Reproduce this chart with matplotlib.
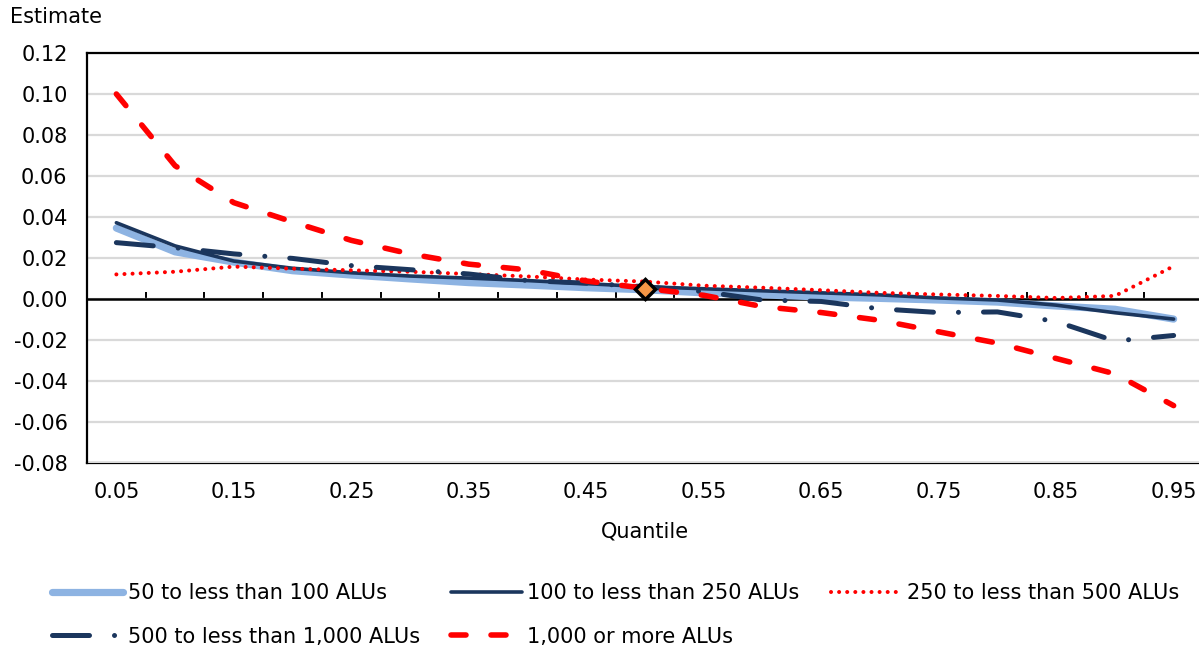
import numpy as np
import matplotlib
matplotlib.use("Agg")
import matplotlib.pyplot as plt

# ---- data ----
quantiles = [0.05, 0.10, 0.15, 0.20, 0.25, 0.30, 0.35, 0.40, 0.45, 0.50,
             0.55, 0.60, 0.65, 0.70, 0.75, 0.80, 0.85, 0.90, 0.95]
tick_labels = ["0.05", "0.15", "0.25", "0.35", "0.45", "0.55", "0.65", "0.75", "0.85", "0.95"]

s_50_100 = [0.0346, 0.0230, 0.0180, 0.0138, 0.0117, 0.0098, 0.0080, 0.0068, 0.0055, 0.0045,
            0.0030, 0.0020, 0.0010, 0.0003, -0.0005, -0.0015, -0.0034, -0.0050, -0.0098]
s_100_250 = [0.0372, 0.0259, 0.0185, 0.0150, 0.0128, 0.0112, 0.0102, 0.0090, 0.0075, 0.0060,
             0.0050, 0.0040, 0.0030, 0.0020, 0.0005, -0.0005, -0.0030, -0.0067, -0.0098]
s_250_500 = [0.0120, 0.0133, 0.0158, 0.0148, 0.0140, 0.0133, 0.0122, 0.0110, 0.0095, 0.0085,
             0.0065, 0.0055, 0.0043, 0.0030, 0.0022, 0.0015, 0.0005, 0.0015, 0.0160]
s_500_1000 = [0.0275, 0.0250, 0.0220, 0.0198, 0.0163, 0.0143, 0.0122, 0.0090, 0.0077, 0.0060,
              0.0036, -0.0005, -0.0012, -0.0048, -0.0066, -0.0063, -0.0110, -0.0205, -0.0178]
s_1000_plus = [0.1000, 0.0650, 0.0470, 0.0376, 0.0286, 0.0220, 0.0170, 0.0142, 0.0088, 0.0052,
               0.0018, -0.0037, -0.0066, -0.0104, -0.0160, -0.0215, -0.0290, -0.0365, -0.0520]
median_q = [0.50]
median_val = [0.0049]

labels = ["50 to less than 100 ALUs", "100 to less than 250 ALUs", "250 to less than 500 ALUs",
          "500 to less than 1,000 ALUs", "1,000 or more ALUs"]

y_ticks = [-0.08, -0.06, -0.04, -0.02, 0.00, 0.02, 0.04, 0.06, 0.08, 0.10, 0.12]

# ---- figure ----
plt.rcParams['font.family'] = ['DejaVu Sans']
FS = 15
W, H = 1199, 650
fig = plt.figure(figsize=(W / 100, H / 100), dpi=100)
fig.patch.set_facecolor('white')

left_px, right_px, top_px, bot_px = 87, 1203, 53, 463
ax = fig.add_axes([left_px / W, 1 - bot_px / H, (right_px - left_px) / W, (bot_px - top_px) / H])

xpos = np.arange(len(quantiles))
ax.set_xlim(-0.5, len(quantiles) - 0.5)
ax.set_ylim(-0.08, 0.12)

light_blue = '#8db3e2'
navy = '#1b365d'
red = '#ff0000'

l1, = ax.plot(xpos, s_50_100, color=light_blue, lw=5.2, solid_capstyle='round',
              solid_joinstyle='round', zorder=3)
l2, = ax.plot(xpos, s_100_250, color=navy, lw=2.6, solid_capstyle='round',
              solid_joinstyle='round', zorder=3.1)
l3, = ax.plot(xpos, s_250_500, color=red, lw=2.9, linestyle=(0, (0.01, 2.0)),
              dash_capstyle='round', zorder=3.2)
l4, = ax.plot(xpos, s_500_1000, color=navy, lw=3.6, linestyle=(0, (7.4, 5.0, 0.01, 5.0)),
              dash_capstyle='round', zorder=3.3)
l5, = ax.plot(xpos, s_1000_plus, color=red, lw=4.0, linestyle=(0, (2.7, 4.5)),
              dash_capstyle='round', zorder=3.4)

# median marker
mx = [quantiles.index(q) for q in median_q]
ax.plot(mx, median_val, linestyle='none', marker='D', markersize=10.5,
        markerfacecolor='#f79646', markeredgecolor='black', markeredgewidth=2.5, zorder=5)

# y axis
ax.set_yticks(y_ticks)
ax.set_yticklabels([f"{v:.2f}" for v in y_ticks], fontsize=FS)
ax.tick_params(axis='y', length=0, pad=14)
ax.yaxis.grid(True, color='#d9d9d9', lw=1.6)
ax.set_axisbelow(True)

# spines
for s in ['top', 'left']:
    ax.spines[s].set_color('black')
    ax.spines[s].set_linewidth(1.6)
ax.spines['right'].set_visible(False)
ax.spines['bottom'].set_position(('data', 0))
ax.spines['bottom'].set_color('black')
ax.spines['bottom'].set_linewidth(1.8)
ax.spines['bottom'].set_zorder(2.5)

# tick marks on the zero line, between categories
ax.set_xticks(np.arange(0.5, len(quantiles) - 0.5, 1))
ax.tick_params(axis='x', direction='in', length=5, width=1.4, labelbottom=False, color='black')

# bottom frame + labels via secondary axis
sec = ax.secondary_xaxis('bottom')
sec.set_xticks(np.arange(0, len(quantiles), 2))
sec.set_xticklabels(tick_labels, fontsize=FS)
sec.tick_params(length=0, pad=14)
sec.spines['bottom'].set_color('black')
sec.spines['bottom'].set_linewidth(1.6)
sec.set_xlabel('Quantile', fontsize=FS, labelpad=14)

fig.text(10 / W, 1 - 17 / H, 'Estimate', fontsize=FS, ha='left', va='center')

# legend (row-major appearance)
h = [l1, l4, l2, l5, l3]
lab = [labels[0], labels[3], labels[1], labels[4], labels[2]]
leg = fig.legend(h, lab, loc='upper left', bbox_to_anchor=(52 / W, 1 - 583 / H),
                 ncol=3, frameon=False, fontsize=FS, handlelength=3.4, handletextpad=0.25,
                 columnspacing=1.5, labelspacing=1.14, borderpad=0, borderaxespad=0)

fig.savefig('out.png', dpi=100, facecolor='white')
